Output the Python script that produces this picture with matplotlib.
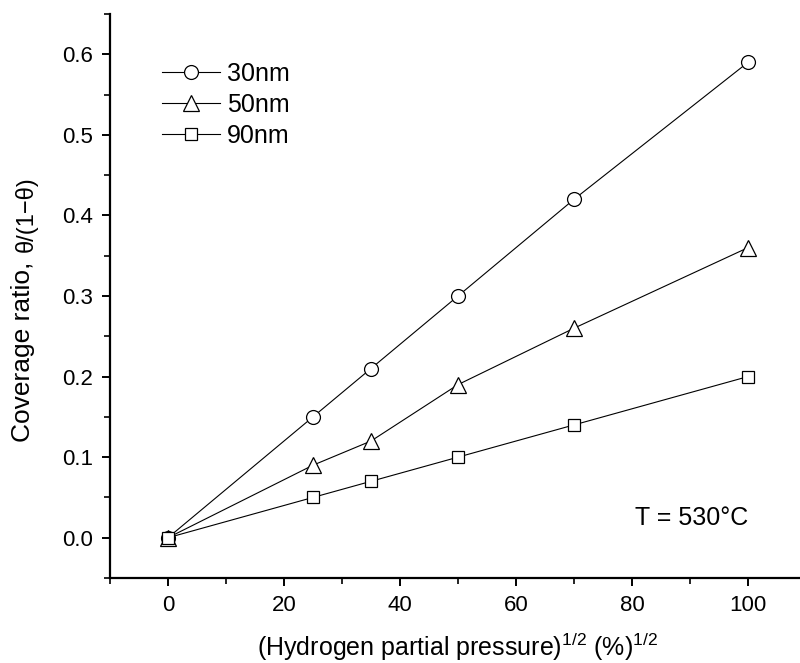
import matplotlib
matplotlib.use("Agg")
import matplotlib.pyplot as plt
from matplotlib.ticker import MultipleLocator, FormatStrFormatter

plt.rcParams['font.family'] = ['Liberation Sans', 'DejaVu Sans']

# data
pressure = [0, 25, 35, 50, 70, 100]
ratio_30nm = [0, 0.15, 0.21, 0.30, 0.42, 0.59]
ratio_50nm = [0, 0.09, 0.12, 0.19, 0.26, 0.36]
ratio_90nm = [0, 0.05, 0.07, 0.10, 0.14, 0.20]
labels = ['30nm', '50nm', '90nm']

W, H = 800, 663
fig = plt.figure(figsize=(8, 6.63), dpi=100)
# axes in pixel coords: left 110, right ~806, top 14, bottom 578
ax = fig.add_axes([110 / W, (H - 578) / H, (806 - 110) / W, (578 - 14) / H])

style = dict(color='black', lw=0.8, markerfacecolor='white',
             markeredgecolor='black', markeredgewidth=0.9)
ax.plot(pressure, ratio_30nm, marker='o', ms=10, label=labels[0], **style)
ax.plot(pressure, ratio_50nm, marker='^', ms=11, label=labels[1], **style)
ax.plot(pressure, ratio_90nm, marker='s', ms=8.5, label=labels[2], **style)

ax.set_xlim(-10, 110)
ax.set_ylim(-0.05, 0.65)
ax.xaxis.set_major_locator(MultipleLocator(20))
ax.xaxis.set_minor_locator(MultipleLocator(10))
ax.yaxis.set_major_locator(MultipleLocator(0.1))
ax.yaxis.set_minor_locator(MultipleLocator(0.05))
ax.yaxis.set_major_formatter(FormatStrFormatter('%.1f'))

ax.spines['top'].set_visible(False)
ax.spines['right'].set_visible(False)
ax.spines['left'].set_linewidth(1.6)
ax.spines['bottom'].set_linewidth(1.6)
ax.tick_params(which='major', direction='out', length=6, width=1.4, labelsize=16, pad=6)
ax.tick_params(which='minor', direction='out', length=4, width=1.2)

ax.set_xlabel(r'(Hydrogen partial pressure)$^{\mathregular{1/2}}$ (%)$^{\mathregular{1/2}}$',
              fontsize=18, labelpad=11)

# y label in two sizes
fig.text(23 / W, (H - 442) / H, 'Coverage ratio,', rotation=90, fontsize=19,
         ha='center', va='bottom')
fig.text(26 / W, (H - 252) / H, 'θ/(1−θ)', rotation=90, fontsize=17,
         ha='center', va='bottom')

ax.legend(loc='center left', bbox_to_anchor=(162 / W, (H - 105) / H),
          bbox_transform=fig.transFigure, frameon=False, fontsize=18,
          handlelength=2.3, handletextpad=0.3, labelspacing=0.28,
          borderpad=0, borderaxespad=0)

ax.text(100, 0.025, 'T = 530°C', fontsize=18, ha='right', va='center')

fig.savefig('out.png', dpi=100)
